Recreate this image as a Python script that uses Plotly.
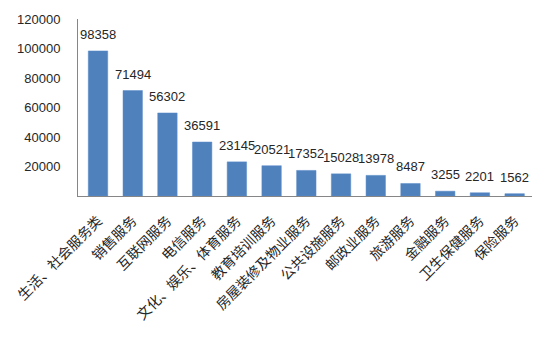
import plotly.graph_objects as go

categories = ["生活、社会服务类", "销售服务", "互联网服务", "电信服务", "文化、娱乐、体育服务",
              "教育培训服务", "房屋装修及物业服务", "公共设施服务", "邮政业服务", "旅游服务",
              "金融服务", "卫生保健服务", "保险服务"]
values = [98358, 71494, 56302, 36591, 23145, 20521, 17352, 15028, 13978, 8487, 3255, 2201, 1562]
y_ticks = [20000, 40000, 60000, 80000, 100000, 120000]

label_font = dict(family="Liberation Sans, Arial, sans-serif", size=13, color="#262626")

fig = go.Figure(go.Bar(
    x=categories,
    y=values,
    marker=dict(color="#4F81BD", line=dict(color="#5B8CC8", width=0.5)),
))

# value labels sitting above each bar
for cat, val in zip(categories, values):
    fig.add_annotation(
        x=cat, y=val, text=str(val), showarrow=False,
        xanchor="center", yanchor="bottom", yshift=7,
        font=label_font,
    )

fig.update_layout(
    width=550, height=338,
    margin=dict(l=75, r=18, t=15, b=142),
    paper_bgcolor="white", plot_bgcolor="white",
    bargap=0.44,
    showlegend=False,
    xaxis=dict(
        tickangle=-45,
        tickfont=dict(family="Noto Sans CJK SC", size=14, color="#262626"),
        showline=True, linecolor="#868686", linewidth=1,
        showgrid=False, ticks="",
        ticklabelstandoff=10,
    ),
    yaxis=dict(
        range=[0, 120000],
        tickvals=y_ticks,
        ticktext=[str(t) for t in y_ticks],
        tickfont=label_font,
        showline=True, linecolor="#868686", linewidth=1,
        showgrid=False, zeroline=False, ticks="",
        ticklabelstandoff=14,
    ),
)

fig.write_html("out.html")
